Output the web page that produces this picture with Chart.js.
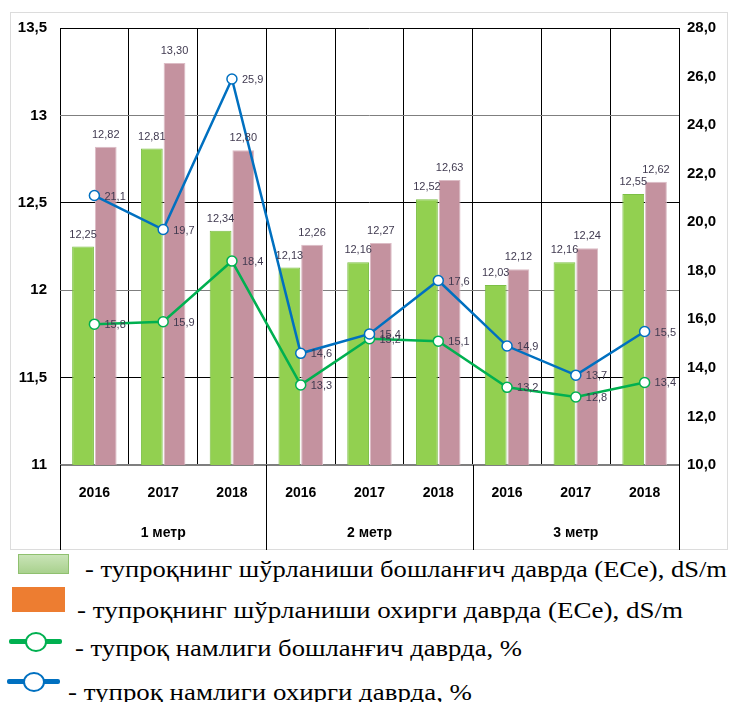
<!DOCTYPE html>
<html>
<head>
<meta charset="utf-8">
<script src="https://cdn.jsdelivr.net/npm/chart.js@4.4.1/dist/chart.umd.min.js"></script>
<style>
  body { margin: 0; background: #fff; width: 732px; height: 702px; overflow: hidden; position: relative; }
  #frame { position: absolute; left: 10px; top: 12px; width: 716px; height: 536px; border: 1px solid #dcdcdc; }
  #wrap { position: absolute; left: 0; top: 0; width: 732px; height: 550px; }
  .leg { position: absolute; white-space: nowrap; font-family: 'Liberation Serif', 'Times New Roman', serif; font-size: 24px; line-height: 24px; color: #000; transform-origin: left center; }
  .sw { position: absolute; }
  .ln { position: absolute; height: 5px; border-radius: 2px; }
  .dot { position: absolute; width: 18px; height: 16px; border-radius: 50%; background: #fff; border: 2px solid; }
</style>
</head>
<body>
<div id="frame"></div>
<div id="wrap"><canvas id="myChart"></canvas></div>

<div class="sw" style="left:18px;top:554px;width:49px;height:18px;background:linear-gradient(#c9e4b7,#a9d18e);border:1px solid #8fc06f;"></div>
<div class="leg" data-w="642" style="left:85px;top:557px;">- тупроқнинг шўрланиши бошланғич даврда (ECe), dS/m</div>

<div class="sw" style="left:12px;top:587px;width:53px;height:25px;background:#ed7d31;"></div>
<div class="leg" data-w="606" style="left:77px;top:598px;">- тупроқнинг шўрланиши охирги даврда (ECe), dS/m</div>

<div class="ln" style="left:9px;top:639px;width:53px;background:#00b050;"></div>
<div class="dot" style="left:25px;top:632px;border-color:#00b050;"></div>
<div class="leg" data-w="447" style="left:75px;top:636px;">- тупроқ намлиги бошланғич даврда, %</div>

<div class="ln" style="left:7px;top:679px;width:53px;background:#0070c0;"></div>
<div class="dot" style="left:23px;top:672px;border-color:#0070c0;"></div>
<div class="leg" data-w="404" style="left:68px;top:680px;">- тупроқ намлиги охирги даврда, %</div>

<script>
const years = ['2016', '2017', '2018', '2016', '2017', '2018', '2016', '2017', '2018'];
const groups = ['1 метр', '2 метр', '3 метр'];
const eceStart = [12.25, 12.81, 12.34, 12.13, 12.16, 12.52, 12.03, 12.16, 12.55];
const eceEnd = [12.82, 13.30, 12.80, 12.26, 12.27, 12.63, 12.12, 12.24, 12.62];
const moistStart = [15.8, 15.9, 18.4, 13.3, 15.2, 15.1, 13.2, 12.8, 13.4];
const moistEnd = [21.1, 19.7, 25.9, 14.6, 15.4, 17.6, 14.9, 13.7, 15.5];

const narrow = '"Liberation Sans Narrow", "Arial Narrow", "Liberation Sans", Arial, sans-serif';
const comma = s => s.replace('.', ',');

// value labels and the group row under the years
const overlay = {
  id: 'overlay',
  afterDatasetsDraw(chart) {
    const ctx = chart.ctx;
    ctx.save();
    ctx.font = '11px ' + narrow;
    ctx.fillStyle = '#403a50';
    chart.data.datasets.forEach((ds, i) => {
      const meta = chart.getDatasetMeta(i);
      meta.data.forEach((el, j) => {
        if (ds.type === 'line') {
          ctx.textAlign = 'left';
          ctx.textBaseline = 'middle';
          ctx.fillText(comma(ds.data[j].toFixed(1)), el.x + 10, el.y + 1);
        } else {
          ctx.textAlign = 'center';
          ctx.textBaseline = 'middle';
          ctx.fillText(comma(ds.data[j].toFixed(2)), el.x, el.y - 12);
        }
      });
    });
    ctx.restore();
  },
  afterDraw(chart) {
    const ctx = chart.ctx;
    const x = chart.scales.x;
    const area = chart.chartArea;
    const step = x.getPixelForValue(1) - x.getPixelForValue(0);
    ctx.save();
    ctx.strokeStyle = '#000';
    ctx.lineWidth = 1;
    for (let g = 0; g <= groups.length; g++) {
      const px = Math.round(x.getPixelForValue(g * 3) - step / 2) + 0.5;
      ctx.beginPath();
      ctx.moveTo(px, area.bottom);
      ctx.lineTo(px, 550);
      ctx.stroke();
    }
    ctx.font = 'bold 14px ' + narrow;
    ctx.fillStyle = '#000';
    ctx.textAlign = 'center';
    ctx.textBaseline = 'middle';
    groups.forEach((g, i) => {
      ctx.fillText(g, x.getPixelForValue(i * 3 + 1), 533);
    });
    ctx.restore();
  }
};

new Chart(document.getElementById('myChart'), {
  type: 'bar',
  data: {
    labels: years,
    datasets: [
      {
        type: 'line', label: 'moistEnd', data: moistEnd, yAxisID: 'y1', order: 0,
        borderColor: '#0070c0', borderWidth: 2.5, tension: 0,
        pointRadius: 5, pointBackgroundColor: '#fff', pointBorderColor: '#0070c0', pointBorderWidth: 1.5
      },
      {
        type: 'line', label: 'moistStart', data: moistStart, yAxisID: 'y1', order: 1,
        borderColor: '#00b050', borderWidth: 2.5, tension: 0,
        pointRadius: 5, pointBackgroundColor: '#fff', pointBorderColor: '#00b050', pointBorderWidth: 1.5
      },
      {
        type: 'bar', label: 'eceStart', data: eceStart, yAxisID: 'y', order: 2,
        backgroundColor: '#92d050', borderColor: '#7cbf45', borderWidth: 1,
        categoryPercentage: 0.66, barPercentage: 0.96
      },
      {
        type: 'bar', label: 'eceEnd', data: eceEnd, yAxisID: 'y', order: 3,
        backgroundColor: '#c4929f', borderColor: '#dcbcc5', borderWidth: 1,
        categoryPercentage: 0.66, barPercentage: 0.96
      }
    ]
  },
  options: {
    responsive: true,
    maintainAspectRatio: false,
    animation: false,
    layout: { padding: { top: 28, left: 0, right: 0, bottom: 0 } },
    plugins: { legend: { display: false }, tooltip: { enabled: false } },
    scales: {
      x: {
        grid: { offset: true, color: '#000', lineWidth: 1, drawTicks: false },
        border: { display: false },
        ticks: { color: '#000', font: { family: narrow, size: 14, weight: 'bold' }, padding: 20, maxRotation: 0 },
        afterFit: s => { s.height = 85; }
      },
      y: {
        position: 'left', min: 11, max: 13.5,
        ticks: { stepSize: 0.5, color: '#000', font: { family: narrow, size: 15, weight: 'bold' }, padding: 13,
          callback: v => comma(String(v)) },
        grid: { drawTicks: false,
          color: c => (c.tick && Number.isInteger(c.tick.value) ? '#7f7f7f' : '#000'),
          lineWidth: c => (c.tick && c.tick.value === 11 ? 2 : 1) },
        border: { display: false },
        afterFit: s => { s.width = 60; }
      },
      y1: {
        position: 'right', min: 10, max: 28,
        ticks: { stepSize: 2, color: '#000', font: { family: narrow, size: 15, weight: 'bold' }, padding: 8,
          callback: v => comma(v.toFixed(1)) },
        grid: { drawOnChartArea: false, drawTicks: false },
        border: { display: false },
        afterFit: s => { s.width = 53; }
      }
    }
  },
  plugins: [overlay]
});

// squeeze legend texts to the widths in the picture
document.querySelectorAll('.leg').forEach(el => {
  const w = el.getBoundingClientRect().width;
  el.style.transform = 'scaleX(' + (Number(el.dataset.w) / w) + ')';
});
</script>
</body>
</html>
